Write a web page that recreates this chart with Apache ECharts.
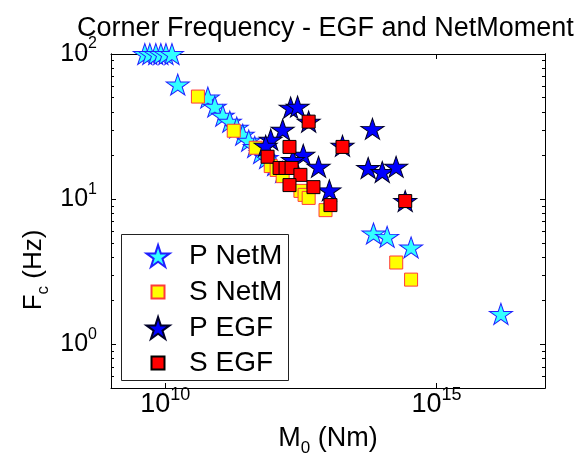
<!DOCTYPE html>
<html>
<head>
<meta charset="utf-8">
<script src="https://cdn.jsdelivr.net/npm/echarts@6/dist/echarts.min.js"></script>
<style>
  html, body { margin: 0; padding: 0; background: #fff; }
  #chart { width: 581px; height: 465px; }
</style>
</head>
<body>
<div id="chart"></div>
<script>
// values: M0 in Nm, Fc in Hz
var pNetM_M0 = [4.2e9, 5.2e9, 6.7e9, 8.3e9, 1.03e10, 1.33e10, 1.7e10, 6.1e10, 8.2e10, 1.15e11, 1.55e11, 2.08e11,
    2.68e11, 3.46e11, 4.46e11, 5.74e11, 7.4e11, 1.04e12, 1.46e12, 6.9e13, 1.23e14, 3.4e14, 1.54e16];
var pNetM_Fc = [100, 100, 100, 100, 100, 100, 61.6, 50.1, 43.4, 37.6, 34.2, 31.1,
    27.8, 25.3, 22.9, 20.8, 19.2, 17.2, 15.4, 5.8, 5.5, 4.65, 1.62];

var sNetM_M0 = [4.0e10, 1.83e11, 4.65e11, 8.8e11, 1.13e12, 1.46e12, 3.1e12, 3.7e12, 4.4e12, 9.0e12, 1.81e14, 3.4e14];
var sNetM_Fc = [50.9, 29.6, 22.6, 16.9, 15.9, 14.4, 11.4, 10.7, 10.2, 8.4, 3.66, 2.79];

var pEGF_M0 = [2.05e12, 2.75e12, 4.4e12, 1.46e12, 8.8e11, 7.1e11, 3.5e12, 6.7e12, 1.06e13, 1.85e13,
    6.6e13, 5.5e13, 1.0e14, 1.8e14, 2.65e14, 2.25e12];
var pEGF_Fc = [42.7, 43.4, 34.2, 30.1, 25.7, 23.3, 20.2, 16.7, 11.5, 23.3,
    30.5, 16.4, 15.4, 16.7, 9.7, 18.6];

var sEGF_M0 = [4.4e12, 1.95e12, 7.7e11, 1.28e12, 1.65e12, 2.13e12, 3.1e12, 1.95e12, 5.4e12, 1.11e13, 1.85e13, 2.65e14];
var sEGF_Fc = [34.2, 22.9, 19.6, 16.4, 16.4, 16.4, 14.7, 12.5, 12.1, 9.1, 22.9, 9.7];

var seriesNames = ['P NetM', 'S NetM', 'P EGF', 'S EGF'];

// ticks
var xTicks = [1e10, 1e15];
var yTicks = [1, 10, 100];
var yMinorTicks = [0.5, 0.6, 0.7, 0.8, 0.9, 2, 3, 4, 5, 6, 7, 8, 9, 20, 30, 40, 50, 60, 70, 80, 90];

var FONT = 'Liberation Sans';
var starPath = 'path://M100,0L122.45,69.1L195.11,69.1L136.33,111.8L158.78,180.9L100,138.2L41.22,180.9L63.67,111.8L4.89,69.1L77.55,69.1Z';
var squarePath = 'path://M0,0H10V10H0Z';

function pairs(xs, ys) {
    return xs.map(function (x, i) { return [x, ys[i]]; });
}

// 10^n label
function powLabel(v) {
    var e = Math.round(Math.log(v) / Math.LN10);
    return '{b|10}{sup|' + e + '}';
}

function powRich(big, small) {
    return {
        b: { fontSize: big, lineHeight: 28, fontFamily: FONT, color: '#000' },
        sup: { fontSize: small, lineHeight: 16, fontFamily: FONT, color: '#000', padding: [0, 0, 20, 0] }
    };
}

// name with a lowered subscript
function nameRich(size) {
    return {
        b: { fontSize: size, lineHeight: 30, fontFamily: FONT, color: '#000' },
        sub: { fontSize: 17, lineHeight: 16, fontFamily: FONT, color: '#000', padding: [18, 0, 0, 0] }
    };
}

function xAxisOf(pos, withLabels) {
    return {
        type: 'log', logBase: 10, min: 1e9, max: 1e17, position: pos,
        axisLine: { show: true, lineStyle: { color: '#000', width: 1 } },
        axisTick: { show: true, inside: true, length: 5, customValues: xTicks, lineStyle: { color: '#000' } },
        axisLabel: withLabels ? {
            show: true, customValues: xTicks, formatter: powLabel, margin: 3, rich: powRich(27, 18)
        } : { show: false },
        minorTick: { show: false },
        splitLine: { show: false },
        name: withLabels ? '{b|M}{sub|0}{b| (Nm)}' : '',
        nameLocation: 'middle',
        nameGap: 36,
        nameMoveOverlap: false,
        nameTextStyle: { rich: nameRich(27) }
    };
}

function yAxisOf(pos, ticks, len, withLabels) {
    return {
        type: 'log', logBase: 10, min: 0.5, max: 100, position: pos,
        axisLine: { show: true, lineStyle: { color: '#000', width: 1 } },
        axisTick: { show: true, inside: true, length: len, customValues: ticks, lineStyle: { color: '#000' } },
        axisLabel: withLabels ? {
            show: true, customValues: ticks, formatter: powLabel, margin: 14, rich: powRich(25, 16)
        } : { show: false },
        minorTick: { show: false },
        splitLine: { show: false },
        name: withLabels ? '{b|F}{sub|c}{b| (Hz)}' : '',
        nameLocation: 'middle',
        nameGap: 62,
        nameRotate: 90,
        nameMoveOverlap: false,
        nameTextStyle: { padding: [0, 98, 0, 0], rich: nameRich(26) }
    };
}

// legend aligns the visible icon's left edge to left + padding
function legendOf(name, left, top, h) {
    return {
        data: [name], left: left, top: top, orient: 'vertical', padding: 5,
        itemWidth: 52, itemHeight: h, symbolKeepAspect: true, selectedMode: false,
        textStyle: { fontSize: 28, lineHeight: 28, fontFamily: FONT, color: '#000' }
    };
}

function scatterOf(name, data, symbol, size, fill, edge) {
    return {
        name: name, type: 'scatter', data: data, symbol: symbol, symbolSize: size,
        symbolKeepAspect: true, clip: false,
        itemStyle: { color: fill, borderColor: edge, borderWidth: 1, opacity: 1 },
        emphasis: { disabled: true }
    };
}

var chart = echarts.init(document.getElementById('chart'), null, { renderer: 'canvas' });

var option = {
    animation: false,
    backgroundColor: '#fff',
    textStyle: { fontFamily: FONT },
    title: {
        text: 'Corner Frequency - EGF and NetMoment',
        left: 72, top: 10,
        textStyle: { fontSize: 27, fontWeight: 'normal', fontFamily: FONT, color: '#000' }
    },
    grid: { left: 111, right: 36, top: 54, bottom: 77, show: false, containLabel: false, outerBoundsMode: 'none' },
    xAxis: [xAxisOf('bottom', true), xAxisOf('top', false)],
    yAxis: [
        yAxisOf('left', yTicks, 5, true),
        yAxisOf('left', yMinorTicks, 3, false),
        yAxisOf('right', yTicks, 5, false),
        yAxisOf('right', yMinorTicks, 3, false)
    ],
    graphic: [{
        type: 'rect', left: 121, top: 234, z: -1,
        shape: { width: 167, height: 146 },
        style: { fill: '#fff', stroke: '#222', lineWidth: 1 }
    }],
    legend: [
        legendOf(seriesNames[0], 140.5, 237, 22),
        legendOf(seriesNames[1], 145.5, 273, 13),
        legendOf(seriesNames[2], 140.5, 309, 22),
        legendOf(seriesNames[3], 145.5, 344, 13)
    ],
    series: [
        scatterOf(seriesNames[0], pairs(pNetM_M0, pNetM_Fc), starPath, [23, 22], '#33ffff', '#2020ff'),
        scatterOf(seriesNames[1], pairs(sNetM_M0, sNetM_Fc), squarePath, 13, '#ffff00', '#ff3b3b'),
        scatterOf(seriesNames[2], pairs(pEGF_M0, pEGF_Fc), starPath, [23, 22], '#0000ff', '#000028'),
        scatterOf(seriesNames[3], pairs(sEGF_M0, sEGF_Fc), squarePath, 13, '#ff0000', '#000000')
    ]
};

chart.setOption(option);
</script>
</body>
</html>
